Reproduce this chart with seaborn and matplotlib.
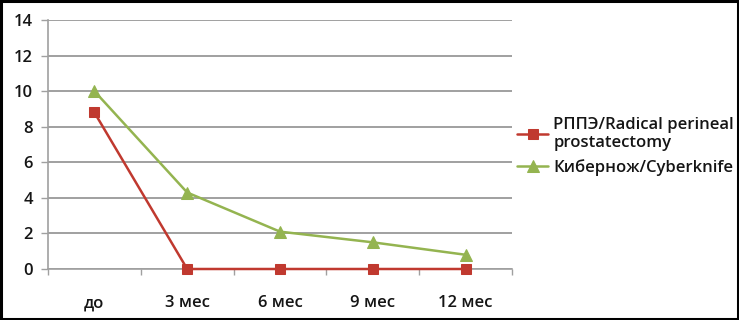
import matplotlib
matplotlib.use('Agg')
import matplotlib.pyplot as plt
import seaborn as sns
import pandas as pd
import numpy as np

periods = ['до', '3 мес', '6 мес', '9 мес', '12 мес']
rppe = [8.8, 0, 0, 0, 0]
cyberknife = [10.0, 4.3, 2.1, 1.5, 0.8]
rppe_label = 'РППЭ/Radical perineal\nprostatectomy'
cyber_label = 'Кибернож/Cyberknife'
yticks = [0, 2, 4, 6, 8, 10, 12, 14]

sns.set_style('white')
plt.rcParams['font.family'] = ['Open Sans', 'DejaVu Sans']
plt.rcParams['text.color'] = '#151515'

RED = '#C0392F'
GREEN = '#94B450'
TXT = '#151515'
WEIGHT = 'semibold'

fig = plt.figure(figsize=(7.39, 3.2), dpi=100)
ax = fig.add_axes([48 / 739, 1 - 269 / 320, (512 - 48) / 739, (269 - 20) / 320])

x = np.arange(len(periods))
sns.lineplot(x=x, y=rppe, ax=ax, color=RED, marker='s', markersize=7,
             markeredgecolor=RED, linewidth=1.8, sort=False, label=rppe_label,
             clip_on=False, zorder=5)
sns.lineplot(x=x, y=cyberknife, ax=ax, color=GREEN, marker='^', markersize=8,
             markeredgecolor=GREEN, linewidth=1.8, sort=False, label=cyber_label,
             clip_on=False, zorder=4)

ax.set_xlim(-0.5, len(periods) - 0.5)
ax.set_ylim(0, 14)
ax.set_yticks(yticks)
ax.set_yticklabels([str(v) for v in yticks], fontsize=12, color=TXT, fontweight=WEIGHT)
ax.set_xticks(x)
ax.set_xticklabels(periods, fontsize=12, color=TXT, fontweight=WEIGHT)
ax.set_xticks(np.arange(-0.5, len(periods)), minor=True)
ax.tick_params(axis='x', which='major', length=0, pad=19)
ax.tick_params(axis='x', which='minor', length=4, color='#a0a0a0', width=1, direction='out', bottom=True)
ax.tick_params(axis='y', length=5, color='#a0a0a0', width=1, direction='out', left=True, pad=6)
ax.set_xlabel('')
ax.set_ylabel('')

ax.grid(axis='y', color='#a0a0a0', linewidth=1.4)
ax.set_axisbelow(True)
for side in ['top', 'right']:
    ax.spines[side].set_visible(False)
for side in ['left', 'bottom']:
    ax.spines[side].set_color('#a0a0a0')
    ax.spines[side].set_linewidth(1.2)
    ax.spines[side].set_zorder(1)

ax.get_legend().remove()
handles, labels = ax.get_legend_handles_labels()
fig.legend(handles, labels, loc='upper left', bbox_to_anchor=(510 / 739, 1 - 110 / 320),
           frameon=False, handlelength=1.9, handletextpad=0.3,
           labelspacing=0.5, borderaxespad=0, prop={'weight': WEIGHT, 'size': 12})

fig.patches.append(plt.Rectangle((0.002, 0.004), 0.996, 0.992, transform=fig.transFigure,
                                 fill=False, edgecolor='black', linewidth=2.2))

fig.savefig('out.png', dpi=100)
